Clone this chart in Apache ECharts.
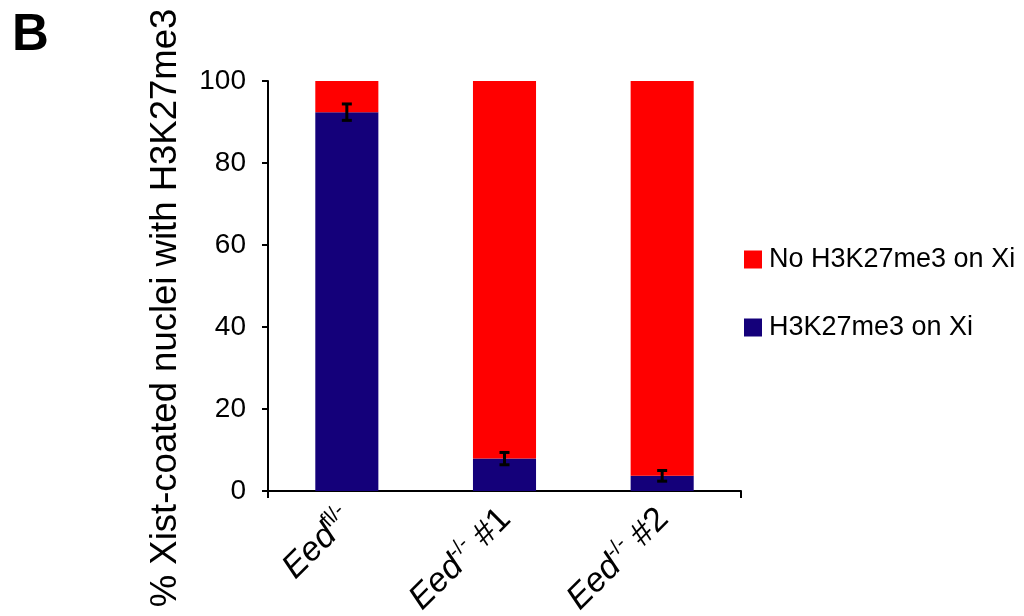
<!DOCTYPE html>
<html><head><meta charset="utf-8">
<script src="https://cdn.jsdelivr.net/npm/echarts@6/dist/echarts.min.js"></script>
<style>html,body{margin:0;padding:0;background:#fff}#c{width:1024px;height:616px}</style>
</head><body><div id="c"></div>
<script>
const categories = ['fl', 'ko1', 'ko2'];
const labelMain = ['Eed', 'Eed', 'Eed'];
const labelSup = ['fl/-', '-/-', '-/-'];
const labelTail = ['', ' #1', ' #2'];
const withMark = [92.4, 7.9, 3.7];
const withoutMark = [7.6, 92.1, 96.3];
const errors = [2.0, 1.5, 1.3];
const yTicks = [0, 20, 40, 60, 80, 100];

const chart = echarts.init(document.getElementById('c'));
const F = 'Liberation Sans, Arial, sans-serif';
chart.setOption({
  animation: false,
  grid: { left: 268, right: 283, top: 81, bottom: 125, containLabel: false, outerBoundsMode: 'none' },
  legend: {
    orient: 'vertical', left: 739, top: 241, itemWidth: 18, itemHeight: 18, itemGap: 41,
    icon: 'rect',
    data: ['No H3K27me3 on Xi', 'H3K27me3 on Xi'],
    textStyle: { fontFamily: F, fontSize: 27, color: '#000', padding: [0, 0, 0, 2] }
  },
  xAxis: [{
    type: 'category', data: categories,
    axisLine: { lineStyle: { color: '#000', width: 2 } },
    axisTick: { show: false },
    axisLabel: {
      rotate: 45, margin: 22, interval: 0,
      formatter: function (v, i) { return '{i|' + labelMain[i] + '}{s|' + labelSup[i] + '}{n|' + labelTail[i] + '}'; },
      rich: {
        i: { fontFamily: F, fontSize: 34, fontStyle: 'italic', color: '#000', verticalAlign: 'bottom' },
        s: { fontFamily: F, fontSize: 21, color: '#000', verticalAlign: 'bottom', padding: [0, 0, 16, 0] },
        n: { fontFamily: F, fontSize: 34, color: '#000', verticalAlign: 'bottom' }
      }
    }
  }, {
    type: 'value', min: 0, max: 3, interval: 3, position: 'bottom', offset: 0,
    axisLine: { show: false },
    axisTick: { show: true, length: 7, lineStyle: { color: '#000', width: 2 } },
    axisLabel: { show: false }, splitLine: { show: false }
  }],
  yAxis: {
    type: 'value', min: 0, max: 100, interval: 20,
    axisLine: { show: true, lineStyle: { color: '#000', width: 2 } },
    axisTick: { show: true, length: 6, lineStyle: { color: '#000', width: 2 } },
    splitLine: { show: false },
    axisLabel: { fontFamily: F, fontSize: 28, color: '#000', margin: 22,
      formatter: function (v) { return yTicks.indexOf(v) >= 0 ? String(v) : ''; } }
  },
  graphic: [
    { type: 'text', left: 12, top: 10, style: { text: 'B', fontFamily: F, fontSize: 51, fontWeight: 'bold', fill: '#000' } },
    { type: 'text', x: 166, y: 308, rotation: Math.PI / 2,
      style: { text: '% Xist-coated nuclei with H3K27me3', fontFamily: F, fontSize: 36.5, fill: '#000', align: 'center', verticalAlign: 'middle' } }
  ],
  series: [
    { name: 'H3K27me3 on Xi', type: 'bar', stack: 's', data: withMark, barWidth: '40%', itemStyle: { color: '#14007A' } },
    { name: 'No H3K27me3 on Xi', type: 'bar', stack: 's', data: withoutMark, barWidth: '40%', itemStyle: { color: '#FF0000' } },
    {
      type: 'custom', name: 'err', z: 10,
      data: withMark.map(function (v, i) { return [i, v - errors[i], v + errors[i]]; }),
      encode: { x: 0, y: [1, 2] },
      renderItem: function (params, api) {
        const lo = api.coord([api.value(0), api.value(1)]);
        const hi = api.coord([api.value(0), api.value(2)]);
        const hw = 5;
        const st = { stroke: '#000', lineWidth: 3 };
        return { type: 'group', children: [
          { type: 'line', shape: { x1: lo[0], y1: lo[1], x2: hi[0], y2: hi[1] }, style: st },
          { type: 'line', shape: { x1: lo[0] - hw, y1: lo[1], x2: lo[0] + hw, y2: lo[1] }, style: st },
          { type: 'line', shape: { x1: hi[0] - hw, y1: hi[1], x2: hi[0] + hw, y2: hi[1] }, style: st }
        ] };
      }
    }
  ]
});
</script></body></html>
